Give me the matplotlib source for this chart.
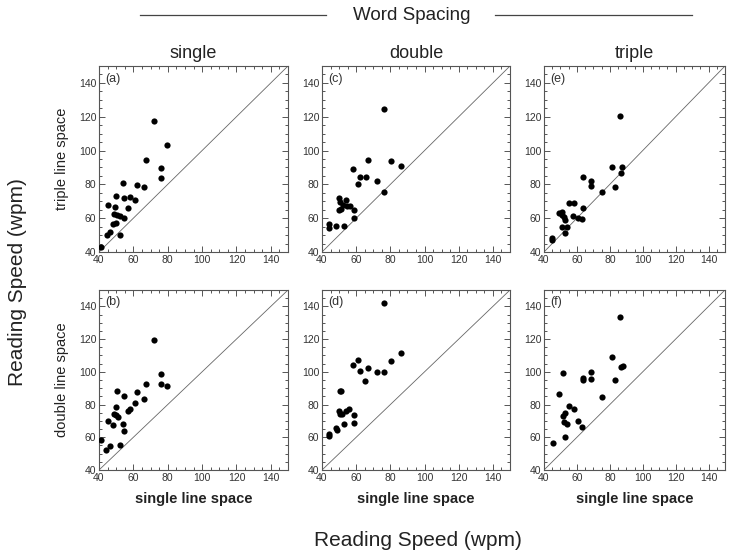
import matplotlib
matplotlib.use("Agg")
import matplotlib.pyplot as plt
from matplotlib.lines import Line2D
from matplotlib.ticker import MultipleLocator

plt.rcParams['font.family'] = ['Liberation Sans', 'DejaVu Sans']

# -------------------------
# data
# -------------------------
word_spacing = ["single", "double", "triple"]
row_labels = ["triple line space", "double line space"]
panel_tags = [["(a)", "(c)", "(e)"], ["(b)", "(d)", "(f)"]]
ticks = [40, 60, 80, 100, 120, 140]

# (a) single word spacing, triple vs single line space
a_x = [41.4, 44.5, 46.6, 52.3, 45.1, 48.0, 49.8, 49.0, 50.7, 52.1, 49.2, 50.0, 54.8,
       54.2, 54.4, 56.6, 57.8, 60.7, 61.9, 66.3, 67.3, 71.8, 76.3, 75.9, 79.8]
a_y = [43.0, 50.0, 51.6, 50.0, 67.8, 56.5, 56.9, 62.2, 61.9, 61.5, 66.8, 72.9, 60.3,
       80.9, 71.7, 65.8, 72.7, 70.5, 79.8, 78.4, 94.3, 117.2, 89.6, 83.5, 103.2]

# (b) single word spacing, double vs single line space
b_x = [41.4, 44.3, 46.6, 52.1, 45.1, 48.0, 49.8, 49.0, 50.0, 51.3, 50.3, 54.2,
       54.6, 54.6, 56.6, 57.8, 60.7, 61.9, 66.3, 67.3, 71.8, 76.3, 75.9, 79.8]
b_y = [58.5, 52.3, 54.7, 55.5, 70.2, 67.2, 78.5, 74.5, 73.5, 72.5, 88.4, 68.2,
       64.0, 85.4, 75.9, 77.5, 80.9, 87.6, 83.1, 92.4, 119.6, 98.5, 92.8, 91.2]

# (c) double word spacing, triple vs single line space
c_x = [43.9, 43.9, 48.4, 52.9, 50.0, 51.4, 50.0, 50.8, 52.4, 54.3, 54.9, 56.3,
       58.6, 58.6, 58.2, 60.8, 62.4, 65.5, 66.9, 72.4, 76.3, 76.3, 80.4, 86.1]
c_y = [54.0, 56.3, 55.6, 55.6, 64.8, 65.2, 71.7, 69.7, 67.8, 70.7, 67.2, 67.4,
       64.8, 60.3, 88.8, 80.0, 84.1, 84.1, 94.7, 81.9, 75.6, 124.3, 93.7, 91.0]

# (d) double word spacing, double vs single line space
d_x = [43.9, 44.2, 48.4, 48.6, 50.0, 50.8, 51.8, 50.8, 51.4, 52.9, 54.3, 55.9,
       58.6, 58.6, 58.2, 60.8, 62.2, 65.1, 66.7, 72.4, 76.5, 76.3, 80.4, 86.1]
d_y = [62.0, 61.0, 65.5, 64.5, 76.0, 74.1, 74.1, 88.3, 88.3, 68.1, 76.0, 77.0,
       73.5, 68.7, 104.2, 107.1, 100.2, 94.5, 102.2, 99.8, 99.6, 141.8, 106.7, 111.3]

# (e) triple word spacing, triple vs single line space
e_x = [45.1, 45.1, 49.3, 51.2, 51.2, 52.2, 52.8, 51.2, 54.2, 52.6, 55.2, 58.3, 57.7,
       60.9, 63.0, 63.4, 63.4, 68.5, 68.5, 75.0, 81.3, 83.1, 86.1, 86.5, 87.2]
e_y = [47.1, 48.5, 62.8, 63.8, 61.9, 60.5, 58.9, 55.0, 55.0, 51.4, 68.7, 69.1, 61.5,
       59.9, 59.3, 66.2, 84.1, 82.1, 79.0, 75.6, 90.0, 78.4, 120.3, 86.9, 90.4]

# (f) triple word spacing, double vs single line space
f_x = [45.5, 49.3, 51.6, 51.4, 53.0, 51.9, 54.2, 52.8, 55.2, 58.3, 60.9,
       63.0, 63.4, 63.4, 68.5, 68.5, 75.0, 81.3, 83.1, 86.1, 86.5, 87.8]
f_y = [56.7, 86.7, 99.4, 73.0, 75.0, 69.4, 68.4, 60.1, 79.4, 77.0, 70.0,
       66.0, 96.5, 95.3, 99.8, 95.5, 84.5, 108.8, 94.9, 133.6, 103.0, 103.4]

panel_data = [[(a_x, a_y), (c_x, c_y), (e_x, e_y)],
              [(b_x, b_y), (d_x, d_y), (f_x, f_y)]]

# -------------------------
# layout (figure fractions)
# -------------------------
W, H = 750, 557
col_px = [(99, 288), (322, 510), (544, 725)]
row_px = [(66, 252), (290, 470)]

fig = plt.figure(figsize=(7.5, 5.57), dpi=100)

for r, (top, bot) in enumerate(row_px):
    for c, (left, right) in enumerate(col_px):
        ax = fig.add_axes([left / W, 1 - bot / H, (right - left) / W, (bot - top) / H])
        xs, ys = panel_data[r][c]
        ax.axline((0, 0), slope=1, color="#666666", lw=0.6)
        ax.scatter(xs, ys, s=20, color="black", zorder=3, linewidths=0)
        ax.set_xlim(40, 150)
        ax.set_ylim(40, 150)
        ax.set_xticks(ticks)
        ax.set_yticks(ticks)
        ax.xaxis.set_minor_locator(MultipleLocator(5))
        ax.yaxis.set_minor_locator(MultipleLocator(5))
        ax.tick_params(which="both", direction="in", top=True, right=True,
                       colors="#555555", labelcolor="#333333", labelsize=7.5, width=0.7)
        ax.tick_params(which="major", length=4, pad=2)
        ax.tick_params(which="minor", length=2)
        for s in ax.spines.values():
            s.set_color("#555555")
            s.set_linewidth(0.8)
        ax.text(0.035, 0.965, panel_tags[r][c], transform=ax.transAxes,
                fontsize=9, color="#333333", va="top", ha="left")

# column titles and x labels
for c, (left, right) in enumerate(col_px):
    fig.text((left + right) / 2 / W, 1 - 53 / H, word_spacing[c],
             fontsize=13, ha="center", va="center", color="#222222")
    fig.text((left + right) / 2 / W, 1 - 499 / H, "single line space",
             fontsize=10.5, fontweight="bold", ha="center", va="center", color="#222222")

# row labels
for r, (top, bot) in enumerate(row_px):
    fig.text(62 / W, 1 - (top + bot) / 2 / H, row_labels[r], rotation=90,
             fontsize=10.5, ha="center", va="center", color="#222222")

# header with lines
fig.text(412 / W, 1 - 16 / H, "Word Spacing", fontsize=13.5,
         ha="center", va="center", color="#222222")
fig.add_artist(Line2D([140 / W, 326 / W], [1 - 15 / H, 1 - 15 / H], color="#444444", lw=0.9))
fig.add_artist(Line2D([495 / W, 692 / W], [1 - 15 / H, 1 - 15 / H], color="#444444", lw=0.9))

# overall axis labels
fig.text(18 / W, 1 - 282 / H, "Reading Speed (wpm)", rotation=90,
         fontsize=15, ha="center", va="center", color="#222222")
fig.text(418 / W, 1 - 541 / H, "Reading Speed (wpm)",
         fontsize=15, ha="center", va="center", color="#222222")

fig.savefig("out.png", dpi=100)
